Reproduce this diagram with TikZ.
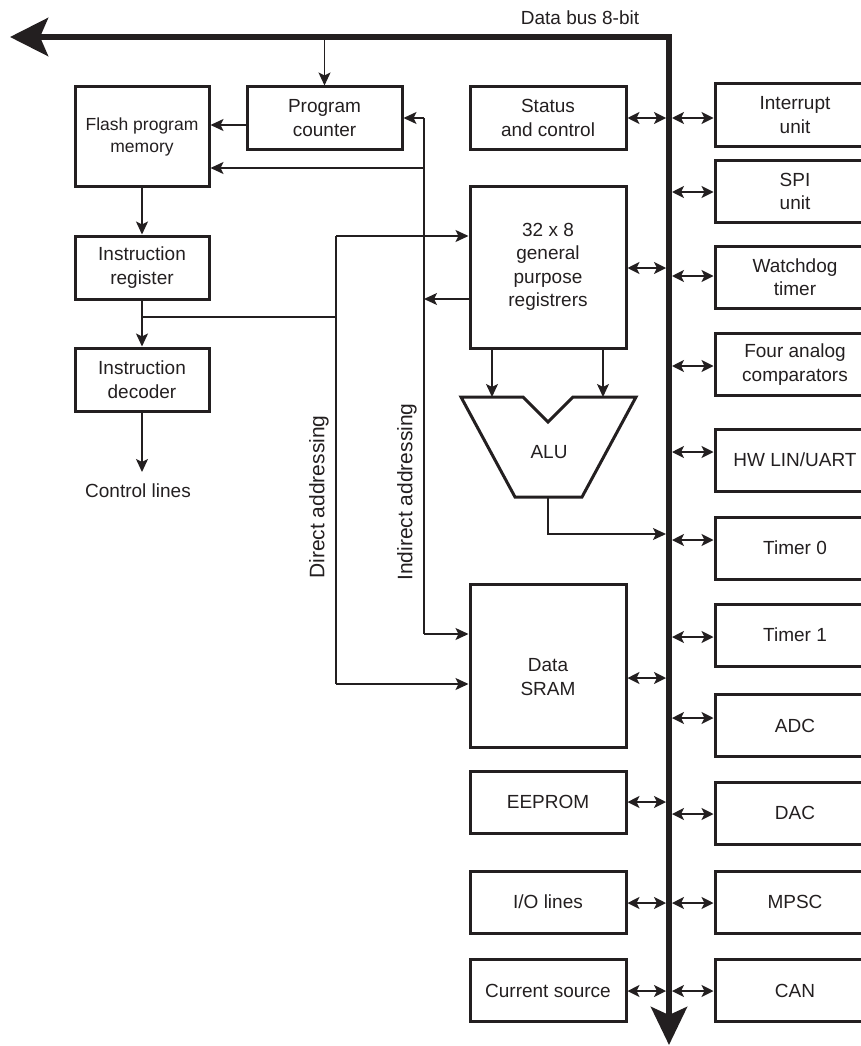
\documentclass[tikz,border=0pt]{standalone}
\usepackage{fontspec}
\setmainfont{Liberation Sans}
\usetikzlibrary{arrows.meta,calc}
\definecolor{ink}{HTML}{231F20}
\newcommand\dgfont{\fontsize{19}{23.5}\selectfont}
\newcommand\dgsmall{\fontsize{17.5}{22}\selectfont}
\newcommand\dgrot{\fontsize{21}{25}\selectfont}
\begin{document}
\begin{tikzpicture}[x=1pt,y=-1pt,
  box/.style={draw=ink, line width=3pt, inner sep=0pt, align=center, font=\dgfont, text=ink},
  lbox/.style={box, minimum width=156pt, minimum height=62pt},
  rbox/.style={box, minimum width=160pt, minimum height=62pt},
  txt/.style={inner sep=0pt, align=center, font=\dgfont, text=ink},
  conn/.style={draw=ink, line width=1.4pt},
  arr/.style={conn, -{Stealth[length=13pt,width=12pt,inset=3pt]}},
  dbl/.style={conn, {Stealth[length=12pt,width=12pt,inset=3pt]}-{Stealth[length=12pt,width=12pt,inset=3pt]}},
  bus/.style={draw=ink, line width=6pt, {Stealth[length=38pt,width=38pt,inset=8pt]}-{Stealth[length=38pt,width=36pt,inset=8pt]}}
]
\useasboundingbox (0,0) rectangle (861,1046);

% data bus
\coordinate (busL) at (10,37);
\coordinate (busC) at (669,37);
\coordinate (busB) at (669,1045);
\coordinate (bl) at (666,500);
\coordinate (br) at (672,500);
\draw[bus] (busL) -- (busC) -- (busB);
\node[txt] (buslbl) at (580,18) {Data bus 8-bit};

% left column
\node[box, font=\dgsmall, minimum width=134pt, minimum height=99pt] (flash) at (142,136.5) {Flash program\\memory};
\node[box, minimum width=134pt, minimum height=63pt] (ir) at (142,267.5) {Instruction\\register};
\node[box, minimum width=134pt, minimum height=63pt] (id) at (142,379.5) {Instruction\\decoder};
\node[txt] (ctl) at (138,491) {Control lines};
\coordinate (ctlA) at (142,472);

% program counter
\node[box, minimum width=155pt, minimum height=62pt] (pc) at (324.5,118) {Program\\counter};

% middle column
\node[lbox] (status) at (548,118) {Status\\and control};
\node[lbox, minimum height=162pt] (regs) at (548,267) {32 x 8\\general\\purpose\\registrers};
\node[lbox, minimum height=163pt] (sram) at (548,665.5) {};
\node[txt] (sramT) at (548,677) {Data\\SRAM};
\node[lbox] (eeprom) at (548,802) {EEPROM};
\node[lbox] (io) at (548,902) {I/O lines};
\node[lbox] (cs) at (548,990.5) {Current source};

% ALU
\coordinate (a1) at (461,397);
\coordinate (a2) at (523,397);
\coordinate (a3) at (548,422);
\coordinate (a4) at (573,397);
\coordinate (a5) at (636,397);
\coordinate (a6) at (582,497);
\coordinate (a7) at (515,497);
\draw[draw=ink, line width=3pt, line join=miter] (a1) -- (a2) -- (a3) -- (a4) -- (a5) -- (a6) -- (a7) -- cycle;
\node[txt] (alu) at (549,452) {ALU};
\coordinate (aluInL) at (492,397);
\coordinate (aluInR) at (603,397);
\coordinate (aluO) at (548,497);
\coordinate (aluC) at (548,534);

% right column
\node[rbox] (intr) at (795,115) {Interrupt\\unit};
\node[rbox] (spi) at (795,191.5) {SPI\\unit};
\node[rbox] (wdt) at (795,277) {Watchdog\\timer};
\node[rbox] (comp) at (795,364.5) {Four analog\\comparators};
\node[rbox] (hw) at (795,460) {HW LIN/UART};
\node[rbox] (t0) at (795,548) {Timer 0};
\node[rbox] (t1) at (795,635) {Timer 1};
\node[rbox] (adc) at (795,725.5) {ADC};
\node[rbox] (dac) at (795,813) {DAC};
\node[rbox] (mpsc) at (795,902) {MPSC};
\node[rbox] (can) at (795,990.5) {CAN};

% bus connections, right side
\foreach \n/\s in {intr/-3, spi/-0.5, wdt/1, comp/-1.5, hw/8, t0/8, t1/-2, adc/7.5, dac/-1, mpsc/-1, can/-0.5}{
  \draw[dbl] ([yshift=\s pt]\n.west -| br) -- ([yshift=\s pt]\n.west);
}
% bus connections, left side
\foreach \n/\s in {status/0, regs/-1, sram/-12.5, eeprom/0, io/-1, cs/-0.5}{
  \draw[dbl] ([yshift=\s pt]\n.east) -- ([yshift=\s pt]\n.east -| bl);
}

% program counter / flash
\draw[arr] (pc.north |- busC) -- (pc.north);
\draw[arr] ([yshift=-7pt]pc.west) -- ([yshift=-7pt]pc.west -| flash.east);

% left column flow
\draw[arr] (flash) -- (ir);
\draw[arr] (ir) -- (id);
\draw[arr] (id.south) -- (ctlA);

% indirect addressing
\coordinate (indT) at (424,118);
\coordinate (indF) at (424,168);
\coordinate (indR) at (424,299);
\coordinate (indB) at (424,634);
\draw[conn] (indT) -- (indB);
\draw[arr] (indT) -- (indT -| pc.east);
\draw[arr] (indF) -- (indF -| flash.east);
\draw[arr] (indR -| regs.west) -- (indR);
\draw[arr] (indB) -- (indB -| sram.west);
\node[txt, font=\dgrot, rotate=90] (itxt) at (407,492) {Indirect addressing};

% direct addressing
\coordinate (dirT) at (336,236);
\coordinate (dirM) at (336,317);
\coordinate (dirB) at (336,684);
\coordinate (irBr) at (142,317);
\draw[conn] (dirT) -- (dirB);
\draw[conn] (irBr) -- (dirM);
\draw[arr] (dirT) -- (dirT -| regs.west);
\draw[arr] (dirB) -- (dirB -| sram.west);
\node[txt, font=\dgrot, rotate=90] (dtxt) at (319,497) {Direct addressing};

% registers to ALU, ALU to bus
\draw[arr] (regs.south -| aluInL) -- (aluInL);
\draw[arr] (regs.south -| aluInR) -- (aluInR);
\draw[arr] (aluO) -- (aluC) -- (aluC -| bl);
\end{tikzpicture}
\end{document}
